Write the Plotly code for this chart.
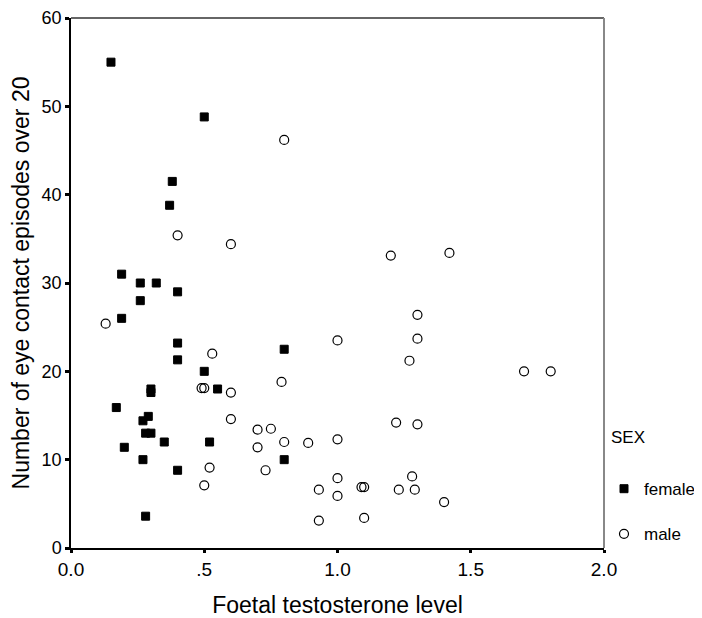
import plotly.graph_objects as go

female_x = [0.15, 0.50, 0.38, 0.37, 0.19, 0.26, 0.32, 0.40, 0.26, 0.19, 0.40, 0.40, 0.80, 0.50,
            0.30, 0.30, 0.55, 0.17, 0.29, 0.27, 0.28, 0.30, 0.20, 0.35, 0.52, 0.27, 0.80, 0.40, 0.28]
female_y = [55.0, 48.8, 41.5, 38.8, 31.0, 30.0, 30.0, 29.0, 28.0, 26.0, 23.2, 21.3, 22.5, 20.0,
            18.0, 17.6, 18.0, 15.9, 14.9, 14.4, 13.0, 13.0, 11.4, 12.0, 12.0, 10.0, 10.0, 8.8, 3.6]

male_x = [0.80, 0.40, 0.60, 1.20, 1.42, 1.30, 1.30, 1.27, 1.70, 1.80, 0.13, 1.00, 0.53, 0.49,
          0.50, 0.79, 0.60, 0.60, 0.70, 0.75, 0.70, 0.80, 0.89, 1.00, 0.52, 0.73, 0.50, 1.00,
          1.00, 0.93, 0.93, 1.22, 1.30, 1.28, 1.09, 1.10, 1.23, 1.29, 1.40, 1.10]
male_y = [46.2, 35.4, 34.4, 33.1, 33.4, 26.4, 23.7, 21.2, 20.0, 20.0, 25.4, 23.5, 22.0, 18.1,
          18.1, 18.8, 17.6, 14.6, 13.4, 13.5, 11.4, 12.0, 11.9, 12.3, 9.1, 8.8, 7.1, 7.9,
          5.9, 6.6, 3.1, 14.2, 14.0, 8.1, 6.9, 6.9, 6.6, 6.6, 5.2, 3.4]

x_tickvals = [0.0, 0.5, 1.0, 1.5, 2.0]
x_ticktext = ["0.0", ".5", "1.0", "1.5", "2.0"]
y_tickvals = [0, 10, 20, 30, 40, 50, 60]
legend_title = "SEX"

FONT = "Liberation Sans, Arial, sans-serif"

fig = go.Figure()
fig.add_trace(go.Scatter(
    x=female_x, y=female_y, mode="markers", name="female", legendgroup="f",
    marker=dict(symbol="square", size=8, color="black", line=dict(color="black", width=1)),
))
fig.add_trace(go.Scatter(
    x=male_x, y=male_y, mode="markers", name="male", legendgroup="m",
    marker=dict(symbol="circle-open", size=9, color="black", line=dict(color="black", width=1.2)),
))

fig.update_layout(
    width=694, height=610,
    margin=dict(l=63, r=98, t=10, b=70, autoexpand=False),
    paper_bgcolor="white", plot_bgcolor="white",
    font=dict(family=FONT, size=17, color="black"),
    showlegend=True,
    legend=dict(
        x=1.0, xanchor="left", y=0.145, yanchor="top",
        traceorder="grouped", tracegroupgap=20,
        font=dict(size=17), itemwidth=30,
        bgcolor="rgba(0,0,0,0)",
    ),
    annotations=[
        dict(text=legend_title, xref="paper", yref="paper", x=1.01, y=0.209,
             xanchor="left", yanchor="middle", showarrow=False, font=dict(size=17)),
    ],
    xaxis=dict(
        range=[0, 2], tickvals=x_tickvals, ticktext=x_ticktext,
        showgrid=False, zeroline=False, showline=True, linecolor="black", linewidth=1.5,
        ticks="outside", ticklen=3, tickwidth=3, tickcolor="black",
        tickfont=dict(size=19), automargin=False,
        title=dict(text="Foetal testosterone level", font=dict(size=23), standoff=18),
    ),
    yaxis=dict(
        range=[0, 60], tickvals=y_tickvals,
        showgrid=False, zeroline=False, showline=True, linecolor="black", linewidth=1.5,
        ticks="outside", ticklen=4, tickwidth=3, tickcolor="black",
        tickfont=dict(size=18), automargin=False, ticklabeloverflow="allow",
        title=dict(text="Number of eye contact episodes over 20", font=dict(size=23), standoff=6),
    ),
    shapes=[
        dict(type="line", xref="paper", yref="paper", x0=0, x1=1, y0=1, y1=1,
             line=dict(color="#333333", width=1.5)),
        dict(type="line", xref="paper", yref="paper", x0=1, x1=1, y0=0, y1=1,
             line=dict(color="#888888", width=2)),
    ],
)

fig.write_html("out.html")
